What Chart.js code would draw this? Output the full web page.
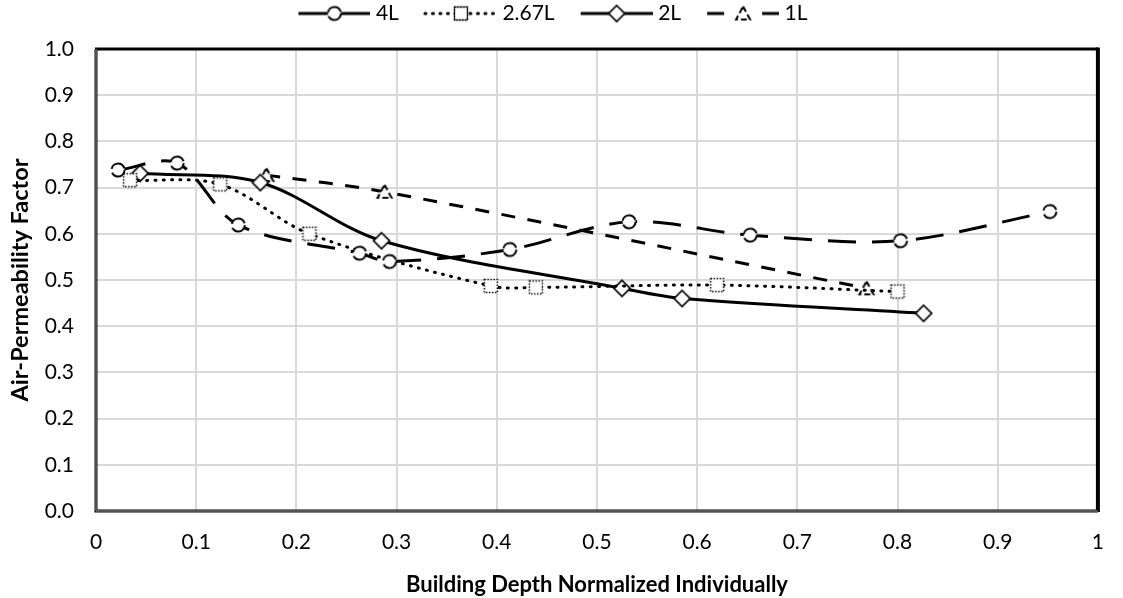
<!DOCTYPE html>
<html>
<head>
<meta charset="utf-8">
<script src="https://cdn.jsdelivr.net/npm/chart.js@4.4.1/dist/chart.umd.min.js"></script>
<style>
  html, body { margin: 0; padding: 0; background: #fff; }
  #wrap { width: 1123px; height: 598px; }
</style>
</head>
<body>
<div id="wrap"><canvas id="grafico"></canvas></div>
<script>
'use strict';

// curves: x = building depth (normalized), y = air-permeability factor
const x4L = [0.022, 0.081, 0.142, 0.263, 0.293, 0.413, 0.532, 0.653, 0.803, 0.952];
const y4L = [0.738, 0.753, 0.619, 0.558, 0.540, 0.566, 0.626, 0.597, 0.585, 0.648];

const x267L = [0.034, 0.124, 0.213, 0.394, 0.439, 0.620, 0.800];
const y267L = [0.716, 0.707, 0.600, 0.487, 0.484, 0.489, 0.475];

const x2L = [0.044, 0.164, 0.285, 0.525, 0.585, 0.826];
const y2L = [0.731, 0.711, 0.585, 0.482, 0.460, 0.428];

const x1L = [0.170, 0.288, 0.769];
const y1L = [0.727, 0.691, 0.482];

const series = ['4L', '2.67L', '2L', '1L'];
const xTitle = 'Building Depth Normalized Individually';
const yTitle = 'Air-Permeability Factor';

const fonte = "Lato, 'Open Sans', sans-serif";

function pontos(xs, ys) {
    return xs.map((x, i) => ({ x: x, y: ys[i] }));
}

// markers (white fill, outline dashed like its line)
function desenhaMarca(g, tipo, cx, cy) {
    g.save();
    g.fillStyle = '#fff';
    g.strokeStyle = '#000';
    g.beginPath();
    if (tipo === 'circulo') {
        g.arc(cx, cy, 6.5, 0, Math.PI * 2);
        g.lineWidth = 2;
        g.setLineDash([17, 4]);
    } else if (tipo === 'quadrado') {
        g.rect(cx - 6.5, cy - 6.5, 13, 13);
        g.lineWidth = 1.5;
        g.setLineDash([1.5, 1.5]);
    } else if (tipo === 'losango') {
        g.moveTo(cx, cy - 8);
        g.lineTo(cx + 8, cy);
        g.lineTo(cx, cy + 8);
        g.lineTo(cx - 8, cy);
        g.closePath();
        g.lineWidth = 1.75;
    } else {
        g.moveTo(cx, cy - 7);
        g.lineTo(cx + 7, cy + 6);
        g.lineTo(cx - 7, cy + 6);
        g.closePath();
        g.lineWidth = 2;
        g.setLineDash([6, 3]);
    }
    g.fill();
    g.stroke();
    g.restore();
}

function marcador(tipo) {
    const c = document.createElement('canvas');
    c.width = 20;
    c.height = 20;
    desenhaMarca(c.getContext('2d'), tipo, 10, 10);
    return c;
}

// legend sample: short line + marker, after a blank lead-in that spaces the items
function iconeLegenda(tipo, dash, cap) {
    const c = document.createElement('canvas');
    c.width = 100;
    c.height = 20;
    const g = c.getContext('2d');
    g.strokeStyle = '#000';
    g.lineWidth = 3;
    g.lineCap = cap;
    g.setLineDash(dash);
    g.beginPath();
    g.moveTo(28, 10);
    g.lineTo(100, 10);
    g.stroke();
    desenhaMarca(g, tipo, 64, 10);
    return c;
}

const tipos = ['circulo', 'quadrado', 'losango', 'triangulo'];
const icones = [
    iconeLegenda('circulo', [], 'butt'),
    iconeLegenda('quadrado', [1, 6.5], 'round'),
    iconeLegenda('losango', [], 'butt'),
    iconeLegenda('triangulo', [17, 38], 'butt')
];

// plot frame: black top/right, grey-cored left/bottom
const moldura = {
    id: 'moldura',
    beforeDatasetsDraw(chart) {
        const { ctx, chartArea: a } = chart;
        ctx.save();
        ctx.strokeStyle = '#000';
        ctx.lineWidth = 3;
        ctx.beginPath();
        ctx.moveTo(a.left - 1, a.top);
        ctx.lineTo(a.right, a.top);
        ctx.stroke();
        ctx.lineWidth = 4;
        ctx.beginPath();
        ctx.moveTo(a.right, a.top - 1.5);
        ctx.lineTo(a.right, a.bottom + 1);
        ctx.stroke();
        ctx.lineWidth = 3;
        ctx.beginPath();
        ctx.moveTo(a.left, a.top);
        ctx.lineTo(a.left, a.bottom);
        ctx.lineTo(a.right, a.bottom);
        ctx.stroke();
        ctx.strokeStyle = '#a6a6a6';
        ctx.lineWidth = 1;
        ctx.stroke();
        ctx.restore();
    }
};

// legend sits flush with the top edge, a bit left of centre
const legendaNoTopo = {
    id: 'legendaNoTopo',
    afterLayout(chart) {
        const l = chart.legend;
        const h = l.bottom - l.top;
        l.top = 0;
        l.bottom = h;
        l.left -= 12;
        l.right -= 12;
    }
};

const linha = {
    borderColor: '#000',
    backgroundColor: '#fff',
    borderWidth: 3,
    tension: 0.33,
    fill: false,
    pointRadius: 7
};

const ctx = document.getElementById('grafico').getContext('2d');
const myChart = new Chart(ctx, {
    type: 'line',
    plugins: [moldura, legendaNoTopo],
    data: {
        datasets: [
            Object.assign({}, linha, { label: series[0], data: pontos(x4L, y4L), borderDash: [28, 16], pointStyle: marcador(tipos[0]) }),
            Object.assign({}, linha, { label: series[1], data: pontos(x267L, y267L), borderDash: [1, 7.3], borderCapStyle: 'round', pointStyle: marcador(tipos[1]) }),
            Object.assign({}, linha, { label: series[2], data: pontos(x2L, y2L), pointStyle: marcador(tipos[2]) }),
            Object.assign({}, linha, { label: series[3], data: pontos(x1L, y1L), borderDash: [14, 12.5], pointStyle: marcador(tipos[3]) })
        ]
    },
    options: {
        responsive: true,
        maintainAspectRatio: false,
        animation: false,
        layout: { padding: { top: 0, right: 16, bottom: 0, left: 0 } },
        scales: {
            x: {
                type: 'linear',
                min: 0,
                max: 1,
                grid: { color: '#d9d9d9', lineWidth: 2, drawTicks: false },
                border: { display: false },
                ticks: {
                    stepSize: 0.1,
                    padding: 19,
                    color: '#000',
                    font: { family: fonte, size: 21 },
                    callback: (v) => Math.abs(v - Math.round(v)) < 1e-9 ? String(Math.round(v)) : v.toFixed(1)
                },
                title: {
                    display: true,
                    text: xTitle,
                    color: '#000',
                    font: { family: fonte, size: 22, weight: 'bold' },
                    padding: { top: 0, bottom: 0 }
                },
                afterFit: (s) => { s.height = 87; }
            },
            y: {
                min: 0,
                max: 1,
                grid: { color: '#d9d9d9', lineWidth: 2, drawTicks: false },
                border: { display: false },
                ticks: {
                    stepSize: 0.1,
                    padding: 22,
                    color: '#000',
                    font: { family: fonte, size: 21 },
                    callback: (v) => v.toFixed(1)
                },
                title: {
                    display: true,
                    text: yTitle,
                    color: '#000',
                    font: { family: fonte, size: 23.5, weight: 'bold' },
                    padding: { top: 6, bottom: 0 }
                },
                afterFit: (s) => { s.width = 96; s.paddingTop = 49; }
            }
        },
        plugins: {
            legend: {
                position: 'top',
                labels: {
                    usePointStyle: true,
                    pointStyleWidth: 90,
                    padding: 3,
                    color: '#000',
                    font: { family: fonte, size: 21 },
                    generateLabels: (chart) => Chart.defaults.plugins.legend.labels.generateLabels(chart)
                        .map((item, i) => Object.assign(item, { pointStyle: icones[i] }))
                }
            },
            tooltip: { enabled: false }
        }
    }
});
</script>
</body>
</html>
